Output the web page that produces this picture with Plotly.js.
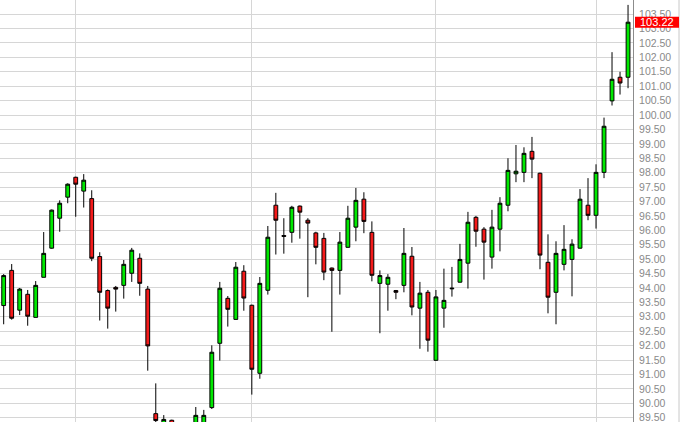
<!DOCTYPE html>
<html>
<head>
<meta charset="utf-8">
<script src="https://cdn.plot.ly/plotly-3.0.1.min.js"></script>
<style>
html,body{margin:0;padding:0;background:#fff;}
#chart{width:684px;height:422px;}
</style>
</head>
<body>
<div id="chart"></div>
<script>
const openP  = [93.39,94.61,93.23,93.78,92.98,94.37,95.38,96.42,97.15,97.84,97.36,97.10,95.09,93.91,94.02,94.09,94.51,95.03,93.96,89.64,89.20,89.41,89.00,88.70,89.10,89.20,89.85,92.08,93.64,92.91,94.58,93.40,91.04,93.92,96.87,95.82,95.93,96.84,96.35,95.91,95.72,94.69,94.61,95.41,96.11,97.08,95.93,94.16,94.13,93.91,94.09,95.10,93.30,93.85,91.49,93.30,93.97,94.20,94.86,96.45,96.04,95.07,96.04,96.87,97.96,98.01,98.74,97.98,94.89,93.85,94.82,94.99,95.38,96.87,96.52,98.01,100.49,101.31,101.31];
const highP  = [94.48,94.83,94.00,93.93,94.24,95.94,96.72,97.04,97.63,97.86,97.95,97.39,95.24,93.95,94.07,94.97,95.39,95.20,94.07,90.69,89.59,89.43,89.25,89.30,89.87,89.77,92.01,94.21,93.72,94.90,94.79,93.42,94.38,96.15,97.30,96.42,96.85,96.86,96.42,95.95,95.91,94.71,95.94,96.85,97.47,97.32,96.31,94.61,94.48,93.93,96.08,95.42,94.21,93.93,93.93,94.67,94.73,95.53,96.64,96.50,96.11,96.71,97.15,98.50,98.96,98.88,99.24,98.00,95.86,95.62,96.18,95.69,97.43,97.81,98.29,99.91,102.18,101.50,103.82];
const lowP   = [92.74,92.90,93.06,92.69,92.98,94.37,95.36,95.95,96.94,96.47,96.79,94.93,92.87,92.59,93.18,93.63,94.21,93.73,91.13,89.30,89.05,88.80,88.50,88.40,88.90,89.00,89.80,91.48,92.66,92.90,93.21,90.30,90.85,93.77,95.16,95.19,95.57,95.71,93.68,94.82,94.27,92.48,93.77,95.40,95.62,95.90,94.23,92.43,93.21,93.61,93.85,93.05,91.89,91.79,91.48,92.62,93.70,94.19,93.98,95.43,94.29,94.67,95.27,96.66,97.67,97.67,97.81,94.65,93.12,92.74,94.61,93.71,95.37,96.35,96.06,97.81,100.33,100.71,100.93];
const closeP = [94.43,92.95,93.96,93.02,94.09,95.20,96.70,96.94,97.60,97.60,97.74,95.03,93.85,93.30,93.96,94.82,95.31,94.16,91.99,89.40,89.44,89.00,88.70,89.10,89.58,89.58,91.77,93.99,93.26,94.72,93.65,91.18,94.16,95.76,96.35,95.79,96.80,96.63,96.25,95.41,94.55,94.61,95.59,96.42,97.04,96.31,94.44,94.43,94.37,93.85,95.20,93.34,93.82,92.19,93.69,93.57,93.99,94.99,96.28,95.97,95.59,96.11,96.94,98.08,98.05,98.67,98.47,95.14,93.68,95.20,95.34,95.52,97.08,96.52,98.01,99.61,101.24,101.11,103.22];
const monthStarts = [9, 31, 54, 74];
const priceTicks = [89.5,90,90.5,91,91.5,92,92.5,93,93.5,94,94.5,95,95.5,96,96.5,97,97.5,98,98.5,99,99.5,100,100.5,101,101.5,102,102.5,103,103.5];

const days = openP.map((_, i) => i);
const last = closeP[closeP.length - 1];

const trace = {
  type: 'candlestick',
  x: days, open: openP, high: highP, low: lowP, close: closeP,
  increasing: {fillcolor: '#00e800', line: {color: '#000000', width: 1}},
  decreasing: {fillcolor: '#f41a1a', line: {color: '#000000', width: 1}},
  whiskerwidth: 0,
  hoverinfo: 'skip'
};

const layout = {
  width: 684, height: 422,
  margin: {l: 0, r: 51, t: 0, b: 0, pad: 0},
  paper_bgcolor: '#ffffff', plot_bgcolor: '#ffffff',
  showlegend: false,
  boxgap: 0.32,
  xaxis: {
    type: 'linear',
    range: [-0.46, 78.62],
    rangeslider: {visible: false},
    tickmode: 'array', tickvals: monthStarts, showticklabels: false, ticks: '',
    showgrid: true, gridcolor: '#d6d6d6', gridwidth: 1,
    zeroline: false, showline: false, fixedrange: true
  },
  yaxis: {
    side: 'right',
    range: [89.35, 103.99],
    tickmode: 'array', tickvals: priceTicks,
    ticktext: priceTicks.map(v => v.toFixed(2)),
    ticks: '', ticklabelstandoff: 3, ticklabeloverflow: 'allow',
    tickfont: {family: 'Liberation Sans, Arial, sans-serif', size: 10.5, color: '#8a8a8a'},
    showgrid: true, gridcolor: '#d6d6d6', gridwidth: 1,
    zeroline: false, showline: true, linecolor: '#8c8c8c', linewidth: 1,
    fixedrange: true
  },
  shapes: [
    {type: 'line', xref: 'paper', yref: 'paper', x0: 679/633, x1: 679/633, y0: 0, y1: 1,
     line: {color: '#c8c8c8', width: 1}},
    {type: 'rect', xref: 'paper', yref: 'y', x0: 635/633, x1: 679/633,
     y0: last - 0.19, y1: last + 0.19, fillcolor: '#ff0000', line: {width: 0}}
  ],
  annotations: [
    {xref: 'paper', yref: 'y', x: 657/633, y: last, xanchor: 'center', yanchor: 'middle',
     text: last.toFixed(2), showarrow: false,
     font: {family: 'Liberation Sans, Arial, sans-serif', size: 11, color: '#ffffff'}}
  ]
};

Plotly.newPlot('chart', [trace], layout, {displayModeBar: false, staticPlot: true});
</script>
</body>
</html>
